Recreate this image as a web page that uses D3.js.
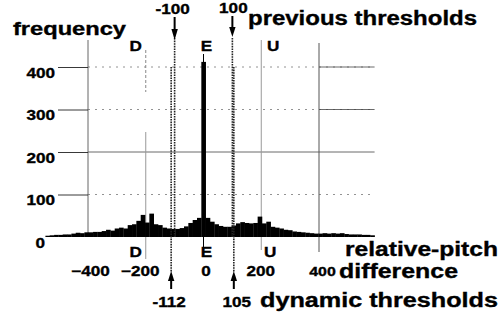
<!DOCTYPE html>
<html>
<head>
<meta charset="utf-8">
<script src="https://cdn.jsdelivr.net/npm/d3@7"></script>
<style>
    body { margin: 0; background: #fff; }
    svg { display: block; }
    text { font-family: "Liberation Sans", Arial, Helvetica, sans-serif; font-weight: bold; fill: #000; stroke: #000; stroke-width: 0.35px; }
</style>
</head>
<body>
<svg width="504" height="318"></svg>
<script>
// bin centres (cents), 15-cent wide bins
const binStart = -540;
const binWidth = 15;
const counts = [
    3, 4, 5, 5, 6, 6, 8, 10, 9, 11,
    11, 12, 12, 14, 17, 15, 20, 22, 20, 28,
    30, 38, 52, 34, 55, 30, 28, 22, 20, 19,
    19, 21, 25, 33, 40, 45, 412, 45, 36, 30,
    26, 24, 24, 27, 32, 35, 33, 32, 33, 48,
    32, 36, 24, 22, 20, 17, 16, 13, 12, 11,
    10, 9, 8, 8, 9, 8, 9, 8, 9, 7,
    6, 6, 6, 5, 5, 4
];
const yTicks = [0, 100, 200, 300, 400];
const xTicks = [-400, -200, 0, 200, 400];
const notes = [
    {name: 'D', value: -200},
    {name: 'E', value: 0},
    {name: 'U', value: 200}
];
const previousThresholds = [-100, 100];
const dynamicThresholds = [-112, 105];

const bins = counts.map((c, i) => ({
    x0: binStart + i * binWidth - binWidth / 2,
    x1: binStart + i * binWidth + binWidth / 2,
    count: c
}));

const svg = d3.select('svg');
const STRETCH = 1.18;

const xScale = d3.scaleLinear()
    .domain([-400, 400])
    .range([88, 319]);

const yScale = d3.scaleLinear()
    .domain([0, 400])
    .range([237, 67]);

const xMax = binStart + (counts.length - 0.5) * binWidth;

// widen text horizontally like the scanned original
const stretch = (sel, len) => sel.each(function () {
    this.setAttribute('textLength', len || this.getComputedTextLength() * STRETCH);
    this.setAttribute('lengthAdjust', 'spacingAndGlyphs');
});

const label = (txt, x, y, size, anchor, len) => svg.append('text')
    .attr('x', x)
    .attr('y', y)
    .attr('font-size', size)
    .attr('text-anchor', anchor || 'start')
    .text(txt)
    .call(stretch, len);

// horizontal grid
const grid = svg.append('g');
yTicks.filter(t => t > 0).forEach(t => {
    grid.append('line')
        .attr('x1', xScale(-400)).attr('x2', xScale(xMax))
        .attr('y1', yScale(t)).attr('y2', yScale(t))
        .attr('stroke', t === 200 ? '#444' : '#777')
        .attr('stroke-width', 0.8)
        .attr('stroke-dasharray', t === 200 ? null : '2,5');
    if (t >= 300) {
        grid.append('line')
            .attr('x1', xScale(400)).attr('x2', xScale(xMax))
            .attr('y1', yScale(t)).attr('y2', yScale(t))
            .attr('stroke', '#444')
            .attr('stroke-width', 0.8);
    }
});

// vertical reference lines
const vline = (v, y1, y2, color, dash) => svg.append('line')
    .attr('x1', xScale(v)).attr('x2', xScale(v))
    .attr('y1', y1).attr('y2', y2)
    .attr('stroke', color)
    .attr('stroke-width', 1)
    .attr('stroke-dasharray', dash || null);

vline(-400, 40, yScale(0), '#666');
vline(400, 43, 252, '#555');
vline(-200, 50, 92, '#888', '3,2');
vline(-200, 132, 259, '#999');
vline(200, 40, 250, '#999');
vline(0, 54, 62, '#000');
vline(0, yScale(0), 247, '#000');

// y axis with short stubs to the left of the grid
svg.append('g')
    .attr('transform', `translate(${xScale(-400)}, 0)`)
    .call(d3.axisLeft(yScale).tickValues(yTicks.filter(t => t > 0)).tickSize(30).tickPadding(3))
    .call(g => g.select('.domain').remove())
    .call(g => g.selectAll('line').attr('stroke', '#222').attr('stroke-width', 0.9))
    .call(g => g.selectAll('text')
        .attr('font-size', 14.5)
        .attr('font-family', null)
        .attr('dy', '0.72em')
        .call(stretch));

label('0', 45, yScale(0) + 11, 14.5, 'end');

// x axis labels
svg.append('g')
    .attr('transform', 'translate(0, 266)')
    .call(d3.axisBottom(xScale).tickValues(xTicks).tickSize(0).tickPadding(0))
    .call(g => g.select('.domain').remove())
    .call(g => g.selectAll('text')
        .attr('font-size', d => d === 400 ? 13.5 : 14.5)
        .attr('font-family', null)
        .attr('dy', '0.72em')
        .attr('dx', d => ({'-200': -6, '0': 2, '200': -1, '400': 3})[d] || 2)
        .call(stretch));

// histogram
svg.append('g')
    .selectAll('rect')
    .data(bins)
    .enter()
    .append('rect')
    .attr('x', d => xScale(d.x0))
    .attr('y', d => yScale(d.count))
    .attr('width', d => xScale(d.x1) - xScale(d.x0) + 0.3)
    .attr('height', d => yScale(0) - yScale(d.count))
    .attr('fill', '#000');

// thresholds
const dotted = (v, y1, y2) => svg.append('line')
    .attr('x1', xScale(v)).attr('x2', xScale(v))
    .attr('y1', y1).attr('y2', y2)
    .attr('stroke', '#222')
    .attr('stroke-width', 1.6)
    .attr('stroke-dasharray', '1.6,1');

const arrow = (v, tip, base, tail) => {
    const x = xScale(v);
    svg.append('line')
        .attr('x1', x).attr('x2', x)
        .attr('y1', tail).attr('y2', base)
        .attr('stroke', '#000')
        .attr('stroke-width', 2);
    svg.append('path')
        .attr('d', `M${x - 3.2},${base} L${x + 3.2},${base} L${x},${tip} Z`)
        .attr('fill', '#000');
};

previousThresholds.forEach((v, i) => {
    dotted(v, 38, yScale(0));
    arrow(v, i === 0 ? 40 : 37, i === 0 ? 29 : 27, i === 0 ? 17 : 16);
});
dynamicThresholds.forEach(v => {
    dotted(v, 67, 272);
    arrow(v, 271, 281, 289);
});

// note letters
notes.forEach(n => {
    const dxTop = n.name === 'D' ? -10 : n.name === 'U' ? 12 : 3;
    const dxBot = n.name === 'D' ? -10 : n.name === 'U' ? 9 : 3;
    label(n.name, xScale(n.value) + dxTop, 51, 14.5, 'middle');
    label(n.name, xScale(n.value) + dxBot, 257, 14.5, 'middle');
});

// threshold numbers
label('-100', xScale(-100) - 2, 14, 14.5, 'middle');
label('100', xScale(100) + 1, 12.5, 14.5, 'middle');
label('-112', xScale(-112) - 2, 307, 14.5, 'middle');
label('105', xScale(105) + 3, 307, 14.5, 'middle');

// titles
label('frequency', 13, 35, 18.5, 'start', 113);
label('previous thresholds', 248, 25, 19.5, 'start', 229);
label('relative-pitch', 345, 256, 19.5, 'start', 153);
label('difference', 339, 278, 19.5, 'start', 119);
label('dynamic thresholds', 260, 307, 20, 'start', 238);
</script>
</body>
</html>
